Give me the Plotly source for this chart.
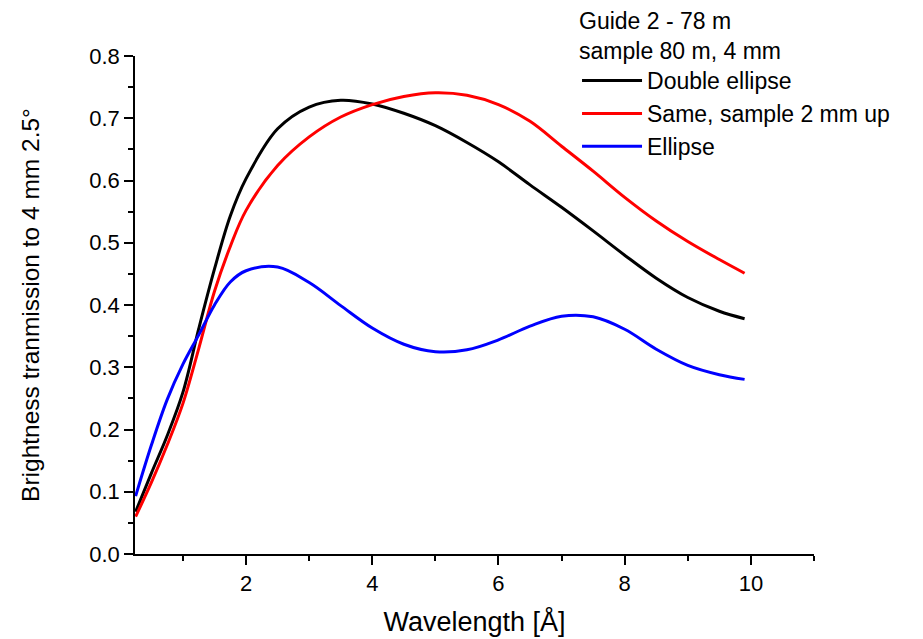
import plotly.graph_objects as go

wavelength = [0.25, 0.5, 0.75, 1.0, 1.25, 1.5, 1.75, 2.0, 2.5, 3.0, 3.5, 4.0, 4.5, 5.0,
              5.5, 6.0, 6.5, 7.0, 7.5, 8.0, 8.5, 9.0, 9.5, 9.9]
double_ellipse = [0.068, 0.13, 0.19, 0.26, 0.362, 0.458, 0.543, 0.603, 0.683, 0.718, 0.729, 0.723,
                  0.708, 0.688, 0.661, 0.630, 0.593, 0.557, 0.519, 0.480, 0.443, 0.412, 0.390, 0.378]
same_2mm_up = [0.060, 0.115, 0.175, 0.242, 0.33, 0.422, 0.494, 0.552, 0.624, 0.670, 0.702, 0.722,
               0.735, 0.741, 0.737, 0.722, 0.695, 0.655, 0.615, 0.573, 0.535, 0.502, 0.473, 0.451]
ellipse = [0.093, 0.175, 0.248, 0.305, 0.352, 0.400, 0.437, 0.455, 0.461, 0.436, 0.399, 0.363,
           0.337, 0.325, 0.328, 0.344, 0.366, 0.382, 0.381, 0.361, 0.329, 0.303, 0.288, 0.2805]

series_names = ["Double ellipse", "Same, sample 2 mm up", "Ellipse"]
series_colors = ["#000000", "#ff0000", "#0000ff"]
x_ticks = [2, 4, 6, 8, 10]
y_ticks = [0.0, 0.1, 0.2, 0.3, 0.4, 0.5, 0.6, 0.7, 0.8]

FONT = "Liberation Sans, Arial, sans-serif"

fig = go.Figure()
for name, ys, col in zip(series_names, [double_ellipse, same_2mm_up, ellipse], series_colors):
    fig.add_trace(go.Scatter(x=wavelength, y=ys, mode="lines", name=name,
                             line=dict(color=col, width=3, shape="spline", smoothing=1.0)))

fig.update_layout(
    width=923, height=639,
    margin=dict(l=135, r=109, t=56, b=85, autoexpand=False),
    paper_bgcolor="white", plot_bgcolor="white",
    font=dict(family=FONT, size=22, color="black"),
    legend=dict(
        x=0.651, y=1.114, xanchor="left", yanchor="top",
        bgcolor="rgba(0,0,0,0)",
        title=dict(text="Guide 2 - 78 m<br>sample 80 m, 4 mm", font=dict(size=23, family=FONT)),
        font=dict(size=23, family=FONT),
        itemwidth=60, tracegroupgap=0,
    ),
    showlegend=True,
)

fig.update_xaxes(
    range=[0.24, 11], tickvals=x_ticks, ticktext=[str(v) for v in x_ticks],
    showline=True, linecolor="black", linewidth=1.6, mirror=False,
    ticks="outside", ticklen=9, tickwidth=1.6, tickcolor="black",
    minor=dict(tickvals=[1, 3, 5, 7, 9, 11], ticks="outside", ticklen=5, tickwidth=1.6, tickcolor="black"),
    showgrid=False, zeroline=False,
    tickfont=dict(size=22, family=FONT),
    title=dict(text="Wavelength [Å]", font=dict(size=27, family=FONT), standoff=17),
)
fig.update_yaxes(
    range=[0, 0.8], tickvals=y_ticks, ticktext=[f"{v:.1f}" for v in y_ticks],
    showline=True, linecolor="black", linewidth=1.6, mirror=False,
    ticks="outside", ticklen=9, tickwidth=1.6, tickcolor="black",
    minor=dict(tickvals=[0.05, 0.15, 0.25, 0.35, 0.45, 0.55, 0.65, 0.75], ticks="outside",
               ticklen=5, tickwidth=1.6, tickcolor="black"),
    showgrid=False, zeroline=False,
    tickfont=dict(size=22, family=FONT),
    title=dict(text="Brightness tranmission to 4 mm 2.5°", font=dict(size=24.5, family=FONT), standoff=43),
)

fig.write_html("out.html")
